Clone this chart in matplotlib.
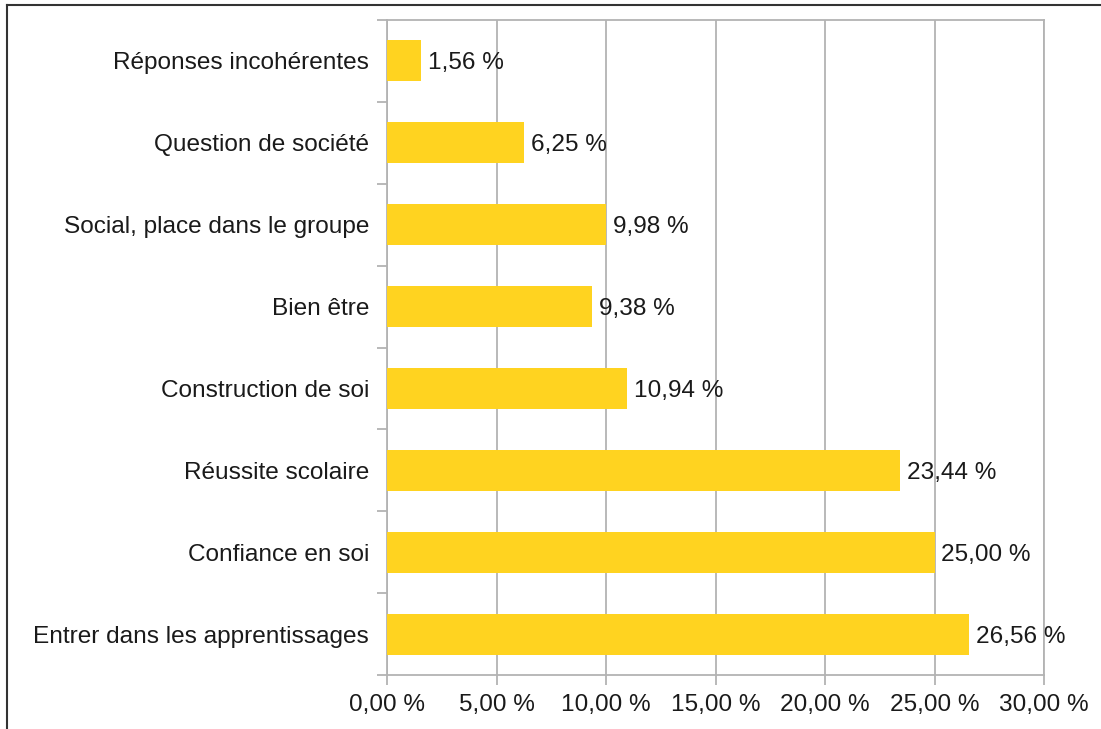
import matplotlib.pyplot as plt
from matplotlib.ticker import FuncFormatter, FixedLocator, NullFormatter
from matplotlib.lines import Line2D

# Données (de haut en bas)
categories = ["Réponses incohérentes", "Question de société", "Social, place dans le groupe",
              "Bien être", "Construction de soi", "Réussite scolaire",
              "Confiance en soi", "Entrer dans les apprentissages"]
values = [1.56, 6.25, 9.98, 9.38, 10.94, 23.44, 25.00, 26.56]
xticks = [0, 5, 10, 15, 20, 25, 30]

plt.rcParams['font.family'] = ['Liberation Sans', 'DejaVu Sans']
fs = 17.6

def fr(v):
    return f"{v:.2f}".replace(".", ",") + " %"

fig = plt.figure(figsize=(11.01, 7.29), dpi=100)
ax = fig.add_axes([387 / 1101, 1 - 675 / 729, (1044 - 387) / 1101, (675 - 20) / 729])

n = len(categories)
pos = list(range(n))[::-1]
ax.barh(pos, values, height=0.5, color="#FFD320", zorder=3)

for p, v in zip(pos, values):
    ax.annotate(fr(v), (v, p), xytext=(5, 0), textcoords="offset points",
                va="center_baseline", ha="left", fontsize=fs, color="#1a1a1a", zorder=4)

ax.set_xlim(0, 30)
ax.set_ylim(-0.5, n - 0.5)
ax.set_xticks(xticks)
ax.xaxis.set_major_formatter(FuncFormatter(lambda v, _: fr(v)))
ax.grid(axis="x", color="#b3b3b3", linewidth=1.3, zorder=0)

# ticks des catégories aux limites, étiquettes au centre
ax.yaxis.set_major_locator(FixedLocator(pos))
ax.set_yticklabels(categories)
ax.yaxis.set_minor_locator(FixedLocator([i - 0.5 for i in range(n + 1)]))
ax.yaxis.set_minor_formatter(NullFormatter())
ax.tick_params(axis="y", which="major", length=0, pad=13, labelsize=fs, labelcolor="#1a1a1a")
ax.tick_params(axis="y", which="minor", length=7.5, width=1.3, color="#b3b3b3")
ax.tick_params(axis="x", length=7.5, width=1.3, color="#b3b3b3", pad=6.5,
               labelsize=fs, labelcolor="#1a1a1a")

for s in ax.spines.values():
    s.set_color("#b3b3b3")
    s.set_linewidth(1.3)

# cadre de l'image
fig.add_artist(Line2D([7 / 1101, 1], [1 - 5 / 729, 1 - 5 / 729], color="#333333", lw=1.5,
                      transform=fig.transFigure))
fig.add_artist(Line2D([7 / 1101, 7 / 1101], [0, 1 - 5 / 729], color="#333333", lw=1.5,
                      transform=fig.transFigure))

fig.savefig("out.png", dpi=100)
